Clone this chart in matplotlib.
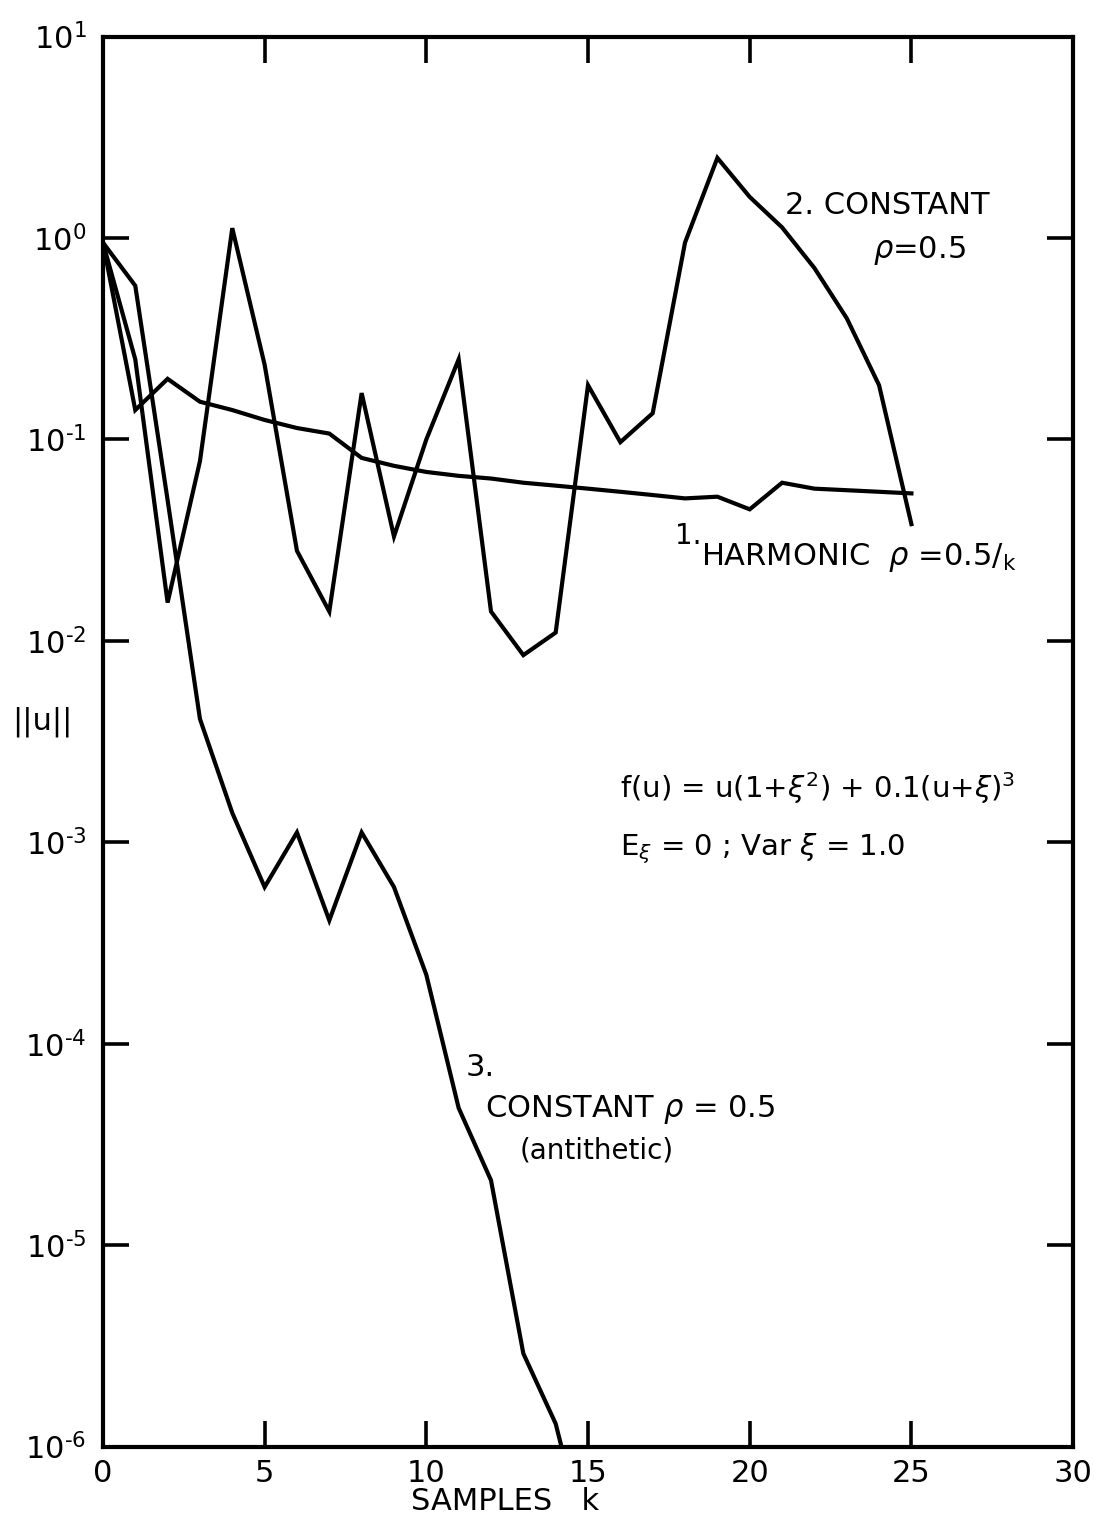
import numpy as np
import matplotlib
matplotlib.use("Agg")
from matplotlib import pyplot as plt
from matplotlib.ticker import FixedLocator, FixedFormatter, NullLocator

plt.rcParams['font.family'] = ['DejaVu Sans']
plt.rcParams['mathtext.fontset'] = 'dejavusans'

# samples k
k_harm = np.arange(0, 26)
k_const = np.arange(0, 26)
k_anti = np.arange(0, 16)

# 1. harmonic rho = 0.5/k
u_harm = [0.95, 0.14, 0.20, 0.154, 0.14, 0.125, 0.114, 0.107, 0.081, 0.074,
          0.069, 0.066, 0.064, 0.061, 0.059, 0.057, 0.055, 0.053, 0.051, 0.052,
          0.045, 0.061, 0.057, 0.056, 0.055, 0.054]

# 2. constant rho = 0.5
u_const = [0.95, 0.25, 0.0155, 0.078, 1.12, 0.235, 0.028, 0.014, 0.17, 0.033,
           0.10, 0.25, 0.014, 0.0085, 0.011, 0.186, 0.097, 0.135, 0.95, 2.5,
           1.6, 1.13, 0.71, 0.40, 0.186, 0.038]

# 3. constant rho = 0.5 (antithetic)
u_anti = [0.95, 0.58, 0.05, 0.0041, 0.0014, 0.0006, 0.00112, 0.00041, 0.00112,
          0.0006, 0.00022, 4.8e-5, 2.1e-5, 2.9e-6, 1.3e-6, 3e-7]

x_ticks = [0, 5, 10, 15, 20, 25, 30]
y_exps = [-6, -5, -4, -3, -2, -1, 0, 1]
y_ticks = [10.0 ** e for e in y_exps]
# short hyphen instead of the wide math minus, like the hand lettering
y_labels = [r'$10^{' + str(e).replace('-', '\u2010') + '}$' for e in y_exps]

fig = plt.figure(figsize=(10.95, 15.26), dpi=100)
ax = fig.add_axes([0.094, 0.052, 0.886, 0.924])

lw = 3.0
ax.plot(k_harm, u_harm, color='black', lw=lw, solid_joinstyle='miter')
ax.plot(k_const, u_const, color='black', lw=lw, solid_joinstyle='miter')
ax.plot(k_anti, u_anti, color='black', lw=lw, solid_joinstyle='miter')

ax.set_yscale('log')
ax.set_xlim(0, 30)
ax.set_ylim(1e-6, 1e1)

ax.xaxis.set_major_locator(FixedLocator(x_ticks))
ax.yaxis.set_major_locator(FixedLocator(y_ticks))
ax.yaxis.set_major_formatter(FixedFormatter(y_labels))
ax.yaxis.set_minor_locator(NullLocator())
ax.tick_params(which='major', direction='in', top=True, right=True,
               length=19, width=2.6, labelsize=22)
ax.tick_params(axis='y', pad=12)
ax.tick_params(axis='x', pad=9)
for sp in ax.spines.values():
    sp.set_linewidth(3.0)

fs = 22
ax.text(21.1, 1.45, '2. CONSTANT', fontsize=fs, va='center', ha='left')
ax.text(23.8, 0.87, r'$\rho$=0.5', fontsize=fs, va='center', ha='left')
ax.text(17.7, 0.033, '1.', fontsize=fs - 2, va='center', ha='left')
ax.text(18.5, 0.026, r'HARMONIC  $\rho$ =0.5/$_\mathregular{k}$', fontsize=fs,
        va='center', ha='left')
ax.text(16.0, 1.85e-3, r'f(u) = u(1+$\xi^2$) + 0.1(u+$\xi$)$^3$', fontsize=21,
        va='center', ha='left')
ax.text(16.0, 9.3e-4, r'E$_\xi$ = 0 ; Var $\xi$ = 1.0', fontsize=21,
        va='center', ha='left')
ax.text(11.2, 7.6e-5, '3.', fontsize=fs, va='center', ha='left')
ax.text(11.8, 4.7e-5, r'CONSTANT $\rho$ = 0.5', fontsize=fs,
        va='center', ha='left')
ax.text(12.9, 2.95e-5, '(antithetic)', fontsize=20, va='center', ha='left')

fig.text(505 / 1095, 1 - 1502 / 1526, 'SAMPLES   k', fontsize=fs,
         ha='center', va='center')
fig.text(42 / 1095, 1 - 722 / 1526, '||u||', fontsize=fs,
         ha='center', va='center')

fig.savefig('out.png', dpi=100)
